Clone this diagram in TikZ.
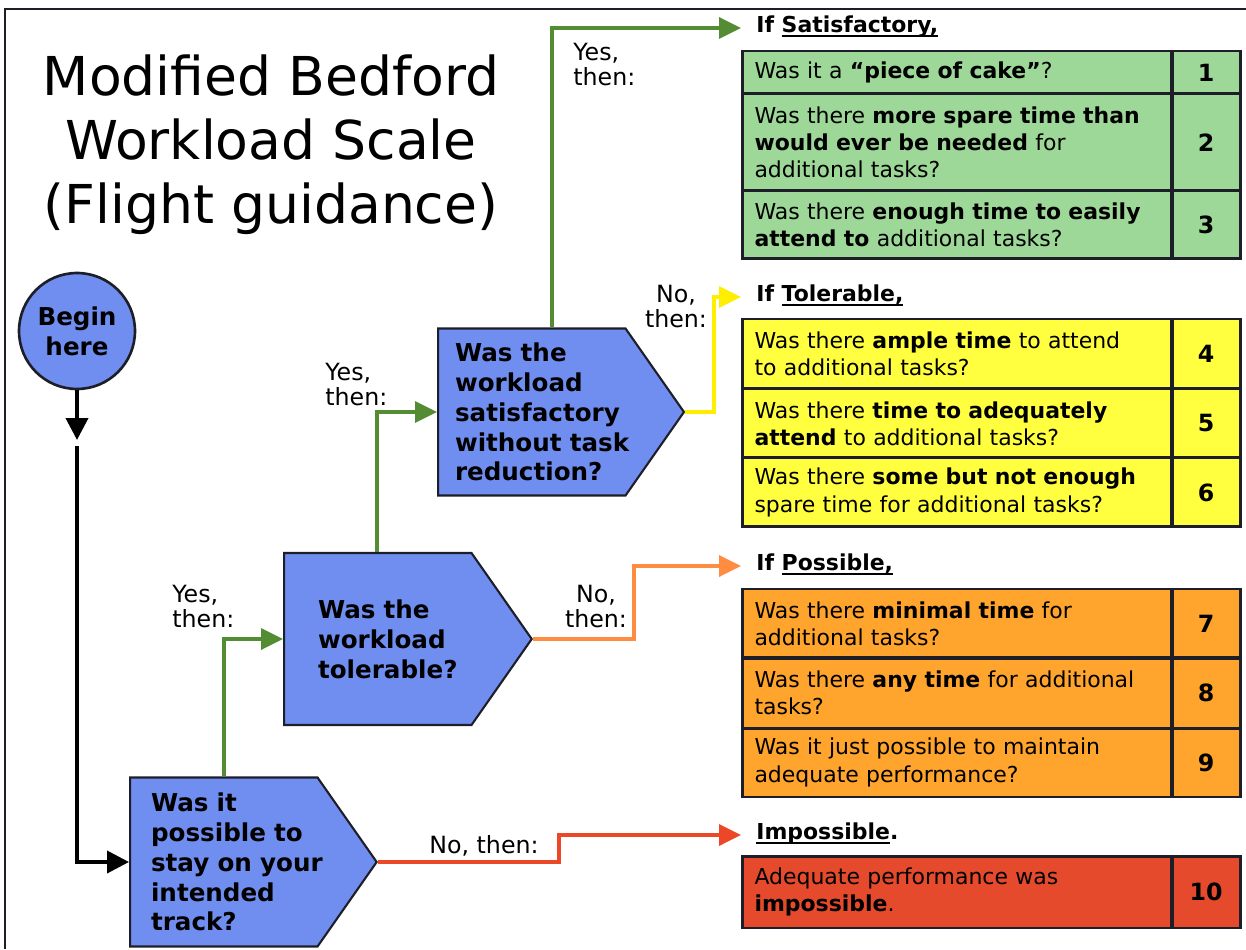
\documentclass[tikz,border=0pt]{standalone}
\usepackage{fontspec}
\setmainfont{DejaVu Sans}
\usetikzlibrary{shapes.symbols,arrows.meta,calc}
\newcommand{\uln}[1]{\setbox0\hbox{#1}\rlap{\rule[-2.2pt]{\wd0}{0.9pt}}\box0}
\definecolor{qblue}{RGB}{112,142,240}
\definecolor{okgreen}{RGB}{158,216,152}
\definecolor{tolyellow}{RGB}{255,255,64}
\definecolor{posorange}{RGB}{255,164,44}
\definecolor{impred}{RGB}{230,74,44}
\definecolor{yesgreen}{RGB}{84,140,52}
\definecolor{noyellow}{RGB}{255,238,0}
\definecolor{noorange}{RGB}{255,140,64}
\definecolor{nored}{RGB}{236,72,40}
\definecolor{edge}{RGB}{30,30,40}
\begin{document}
\begin{tikzpicture}[x=0.02cm, y=-0.02cm,
  decision/.style={shape=signal, signal from=nowhere, signal to=east, signal pointer angle=110, draw=edge, line width=1.2pt, fill=qblue, anchor=west, align=left, font=\fontsize{14}{17}\selectfont\bfseries},
  cell/.style={draw=edge, line width=1.7pt, outer sep=0pt, anchor=north west, text width=8.1cm, inner xsep=0.25cm, inner ysep=0pt, align=left, font=\fontsize{12.5}{15.5}\selectfont},
  num/.style={draw=edge, line width=1.7pt, outer sep=0pt, anchor=north west, minimum width=1.36cm, inner sep=0pt, font=\fontsize{13.5}{15}\selectfont\bfseries},
  head/.style={anchor=mid west, inner xsep=0.3cm, inner ysep=0pt, font=\fontsize{12.5}{15}\selectfont\bfseries},
  lbl/.style={inner sep=0pt, font=\fontsize{13.5}{14.3}\selectfont},
  blackline/.style={draw=black, line width=2.2pt, -{Triangle[length=0.44cm, width=0.44cm]}},
  yesline/.style={draw=yesgreen, line width=2pt, -{Triangle[length=0.44cm, width=0.42cm]}},
  noline/.style={line width=2pt, -{Triangle[length=0.44cm, width=0.42cm]}}]
\useasboundingbox (0,0) rectangle (1246,949);
\draw[edge, line width=1.7pt] (1246,9) -- (5,9) -- (5,949);

% title and start
\node[anchor=north, inner sep=0pt, align=center, font=\fontsize{30.5}{36.5}\selectfont] (ttl) at (271,54) {Modified Bedford\\Workload Scale\\(Flight guidance)};
\node[shape=circle, draw=edge, line width=1.5pt, fill=qblue, minimum size=2.32cm, inner sep=0pt, align=center, font=\fontsize{14}{17}\selectfont\bfseries] (begin) at (77,331) {Begin\\here};

% decisions
\node[decision, minimum height=3.38cm, text width=2.91cm, inner xsep=0.42cm] (D1) at (129,862) {Was~it\\ possible~to\\ stay~on~your\\ intended\\ track?};
\node[decision, minimum height=3.44cm, text width=2.39cm, inner xsep=0.68cm] (D2) at (283,639) {Was~the\\ workload\\ tolerable?};
\node[decision, minimum height=3.34cm, text width=3.07cm, inner xsep=0.34cm] (D3) at (437,412) {Was~the\\ workload\\ satisfactory\\ without~task\\ reduction?};

% headings
\node[head] (hs) at (741,28) {If \uln{Satisfactory,}};
\node[head] (ht) at (741,297) {If \uln{Tolerable,}};
\node[head] (hp) at (741,566) {If \uln{Possible,}};
\node[head] (hi) at (741,835) {\uln{Impossible}.};

% satisfactory
\node[cell, fill=okgreen, minimum height=0.86cm] (g1) at (742,51) {Was it a \textbf{“piece of cake”}?};
\node[num, fill=okgreen, minimum height=0.86cm] (g1n) at (1172,51) {1};
\node[cell, fill=okgreen, minimum height=1.94cm] (g2) at (742,94) {Was there \textbf{more spare time than}\\ \textbf{would ever be needed} for\\ additional tasks?};
\node[num, fill=okgreen, minimum height=1.94cm] (g2n) at (1172,94) {2};
\node[cell, fill=okgreen, minimum height=1.36cm] (g3) at (742,191) {Was there \textbf{enough time to easily}\\ \textbf{attend to} additional tasks?};
\node[num, fill=okgreen, minimum height=1.36cm] (g3n) at (1172,191) {3};

% tolerable
\node[cell, fill=tolyellow, minimum height=1.40cm] (y4) at (742,319) {Was there \textbf{ample time} to attend\\ to additional tasks?};
\node[num, fill=tolyellow, minimum height=1.40cm] (y4n) at (1172,319) {4};
\node[cell, fill=tolyellow, minimum height=1.38cm] (y5) at (742,389) {Was there \textbf{time to adequately}\\ \textbf{attend} to additional tasks?};
\node[num, fill=tolyellow, minimum height=1.38cm] (y5n) at (1172,389) {5};
\node[cell, fill=tolyellow, minimum height=1.38cm] (y6) at (742,458) {Was there \textbf{some but not enough}\\ spare time for additional tasks?};
\node[num, fill=tolyellow, minimum height=1.38cm] (y6n) at (1172,458) {6};

% possible
\node[cell, fill=posorange, minimum height=1.38cm] (o7) at (742,589) {Was there \textbf{minimal time} for\\ additional tasks?};
\node[num, fill=posorange, minimum height=1.38cm] (o7n) at (1172,589) {7};
\node[cell, fill=posorange, minimum height=1.40cm] (o8) at (742,658) {Was there \textbf{any time} for additional\\ tasks?};
\node[num, fill=posorange, minimum height=1.40cm] (o8n) at (1172,658) {8};
\node[cell, fill=posorange, minimum height=1.38cm] (o9) at (742,728) {Was it just possible to maintain\\ adequate performance?};
\node[num, fill=posorange, minimum height=1.38cm] (o9n) at (1172,728) {9};

% impossible
\node[cell, fill=impred, minimum height=1.44cm] (r10) at (742,856) {Adequate performance was\\ \textbf{impossible}.};
\node[num, fill=impred, minimum height=1.44cm] (r10n) at (1172,856) {10};

% labels
\node[lbl, anchor=north west, align=left] (ys) at (573,43) {Yes,\\then:};
\node[lbl, anchor=north west, align=left] (yt) at (325,363) {Yes,\\then:};
\node[lbl, anchor=north west, align=left] (yp) at (172,585) {Yes,\\then:};
\node[lbl, anchor=north, align=center] (nt) at (676,285) {No,\\then:};
\node[lbl, anchor=north, align=center] (np) at (596,585) {No,\\then:};
\node[lbl, anchor=base west] (ni) at (429,853) {No, then:};

% connectors
\coordinate (b1) at (77,440);
\coordinate (b2) at (77,446);
\coordinate (k1) at (224,0);
\coordinate (k2) at (377,0);
\coordinate (k3) at (552,0);
\coordinate (k4) at (714,0);
\coordinate (k5) at (634,0);
\coordinate (k6) at (559,0);
\draw[blackline] (begin) -- (b1);
\draw[blackline] (b2) |- (D1.west);
\draw[yesline] (D1.north -| k1) |- (D2.west);
\draw[yesline] (D2.north -| k2) |- (D3.west);
\draw[yesline] (D3.north -| k3) |- (hs.mid west);
\draw[noline, draw=noyellow] (D3.east) -| (k4 |- ht.mid west) -- (ht.mid west);
\draw[noline, draw=noorange] (D2.east) -| (k5 |- hp.mid west) -- (hp.mid west);
\draw[noline, draw=nored] (D1.east) -| (k6 |- hi.mid west) -- (hi.mid west);
\end{tikzpicture}
\end{document}
